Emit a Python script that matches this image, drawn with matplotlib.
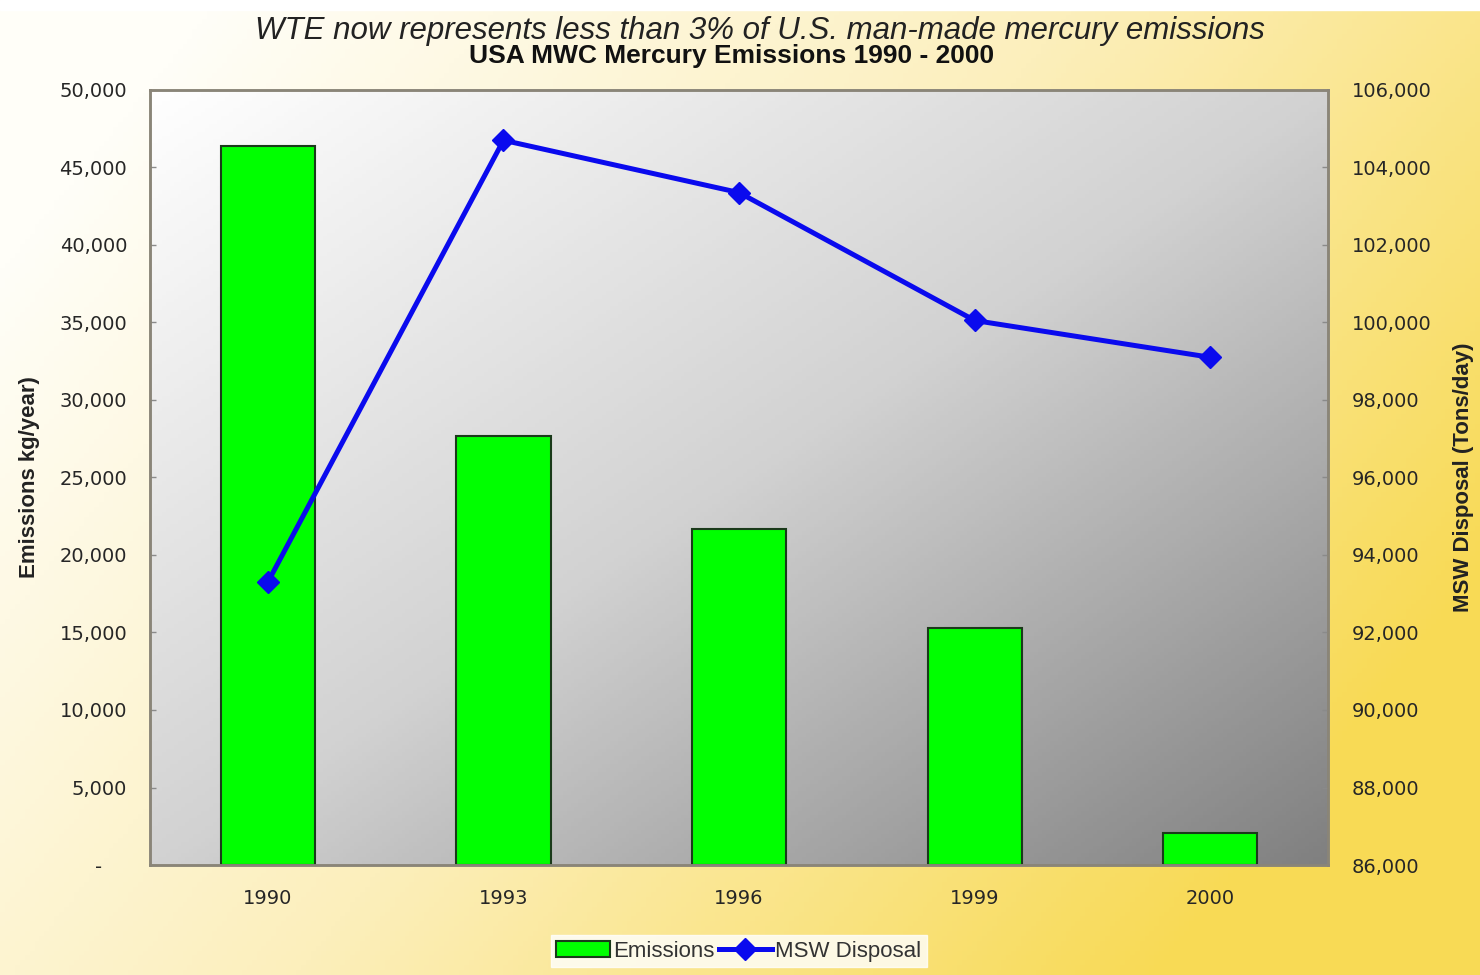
import numpy as np
import matplotlib
matplotlib.use('Agg')
import matplotlib.pyplot as plt
from matplotlib.colors import LinearSegmentedColormap
from matplotlib.ticker import FuncFormatter

# Данные с графика
years = ['1990', '1993', '1996', '1999', '2000']
emissions = [46400, 27700, 21650, 15300, 2050]          # кг/год
msw_disposal = [93300, 104700, 103350, 100050, 99100]   # тонн/день

plt.rcParams['font.family'] = ['Liberation Sans', 'DejaVu Sans']

fig = plt.figure(figsize=(14.8, 9.75), dpi=100)

# Фон всей картинки: от белого слева к жёлтому справа и снизу
bg = fig.add_axes([0, 0, 1, 1], zorder=-10)
gx, gy = np.meshgrid(np.linspace(0, 1, 300), np.linspace(0, 1, 200))
t = np.clip(0.85 * gx + 0.45 * gy - 0.12, 0, 1)
bg_cmap = LinearSegmentedColormap.from_list('bg', ['#FFFEF8', '#FCEFBC', '#F8DA55'])
bg.imshow(t, cmap=bg_cmap, extent=[0, 1, 0, 1], aspect='auto', origin='upper')
bg.axhspan(0.99, 1.0, color='white')
bg.set_xlim(0, 1)
bg.set_ylim(0, 1)
bg.axis('off')

ax = fig.add_axes([0.1014, 0.1128, 0.796, 0.795])
ax2 = ax.twinx()

# Градиент внутри области построения: белый слева сверху -> серый справа снизу
px, py = np.meshgrid(np.linspace(0, 1, 300), np.linspace(0, 1, 200))
g = 0.5 * (px + py)
plot_cmap = LinearSegmentedColormap.from_list(
    'pa', [(0, '#FFFFFF'), (0.5, '#D2D2D2'), (1, '#808080')])
ax.imshow(g, cmap=plot_cmap, extent=[0, 1, 0, 1], aspect='auto',
          origin='upper', transform=ax.transAxes, zorder=0)

x = np.arange(len(years))
bars = ax.bar(x, emissions, width=0.4, color='#00FF00', edgecolor='#1A3A1A',
              linewidth=1.5, zorder=2, label='Emissions')
line, = ax2.plot(x, msw_disposal, color='#0A0AEE', linewidth=3.6, marker='D',
                 markersize=11, zorder=3, label='MSW Disposal')

ax.set_xlim(-0.5, 4.5)
ax.set_ylim(0, 50000)
ax.set_yticks(np.arange(0, 50001, 5000))
# Ноль в стиле Excel — прочерк, смещённый влево
ax.yaxis.set_major_formatter(FuncFormatter(lambda v, p: '-    ' if v == 0 else f'{int(v):,}'))
ax2.set_ylim(86000, 106000)
ax2.set_yticks(np.arange(86000, 106001, 2000))
ax2.yaxis.set_major_formatter(FuncFormatter(lambda v, p: f'{int(v):,}'))

ax.set_xticks(x)
ax.set_xticklabels(years)

for a in (ax, ax2):
    a.tick_params(axis='both', labelsize=14, colors='#8a8a8a', labelcolor='#262626',
                  length=4, width=1, direction='in')
    for s in a.spines.values():
        s.set_color('#8A8578')
        s.set_linewidth(1.8)
    for lbl in a.get_yticklabels() + a.get_xticklabels():
        lbl.set_family('DejaVu Sans')
ax.tick_params(axis='x', length=0, pad=17)
ax.tick_params(axis='y', pad=16.5)
ax2.tick_params(axis='y', pad=17)

fig.text(30 / 1480, 1 - 477 / 975, 'Emissions kg/year)', rotation=90,
         ha='center', va='center', fontsize=16, fontweight='bold', color='#222222')
fig.text(1463 / 1480, 1 - 477 / 975, 'MSW Disposal (Tons/day)', rotation=90,
         ha='center', va='center', fontsize=16, fontweight='bold', color='#222222')

fig.text(0.5135, 0.968, 'WTE now represents less than 3% of U.S. man-made mercury emissions',
         ha='center', va='center', fontsize=22.5, style='italic', color='#222222')
fig.text(0.494, 0.943, 'USA MWC Mercury Emissions 1990 - 2000',
         ha='center', va='center', fontsize=19, fontweight='bold', color='#111111')

leg = fig.legend(handles=[bars, line], loc='center', bbox_to_anchor=(0.4993, 0.0246),
                 ncol=2, fontsize=16, frameon=True, fancybox=False,
                 handlelength=2.4, handletextpad=0.15, columnspacing=0.2,
                 borderpad=0.25)
leg.get_frame().set_facecolor('white')
leg.get_frame().set_edgecolor('white')
for txt in leg.get_texts():
    txt.set_color('#333333')

fig.savefig('out.png', dpi=100)
